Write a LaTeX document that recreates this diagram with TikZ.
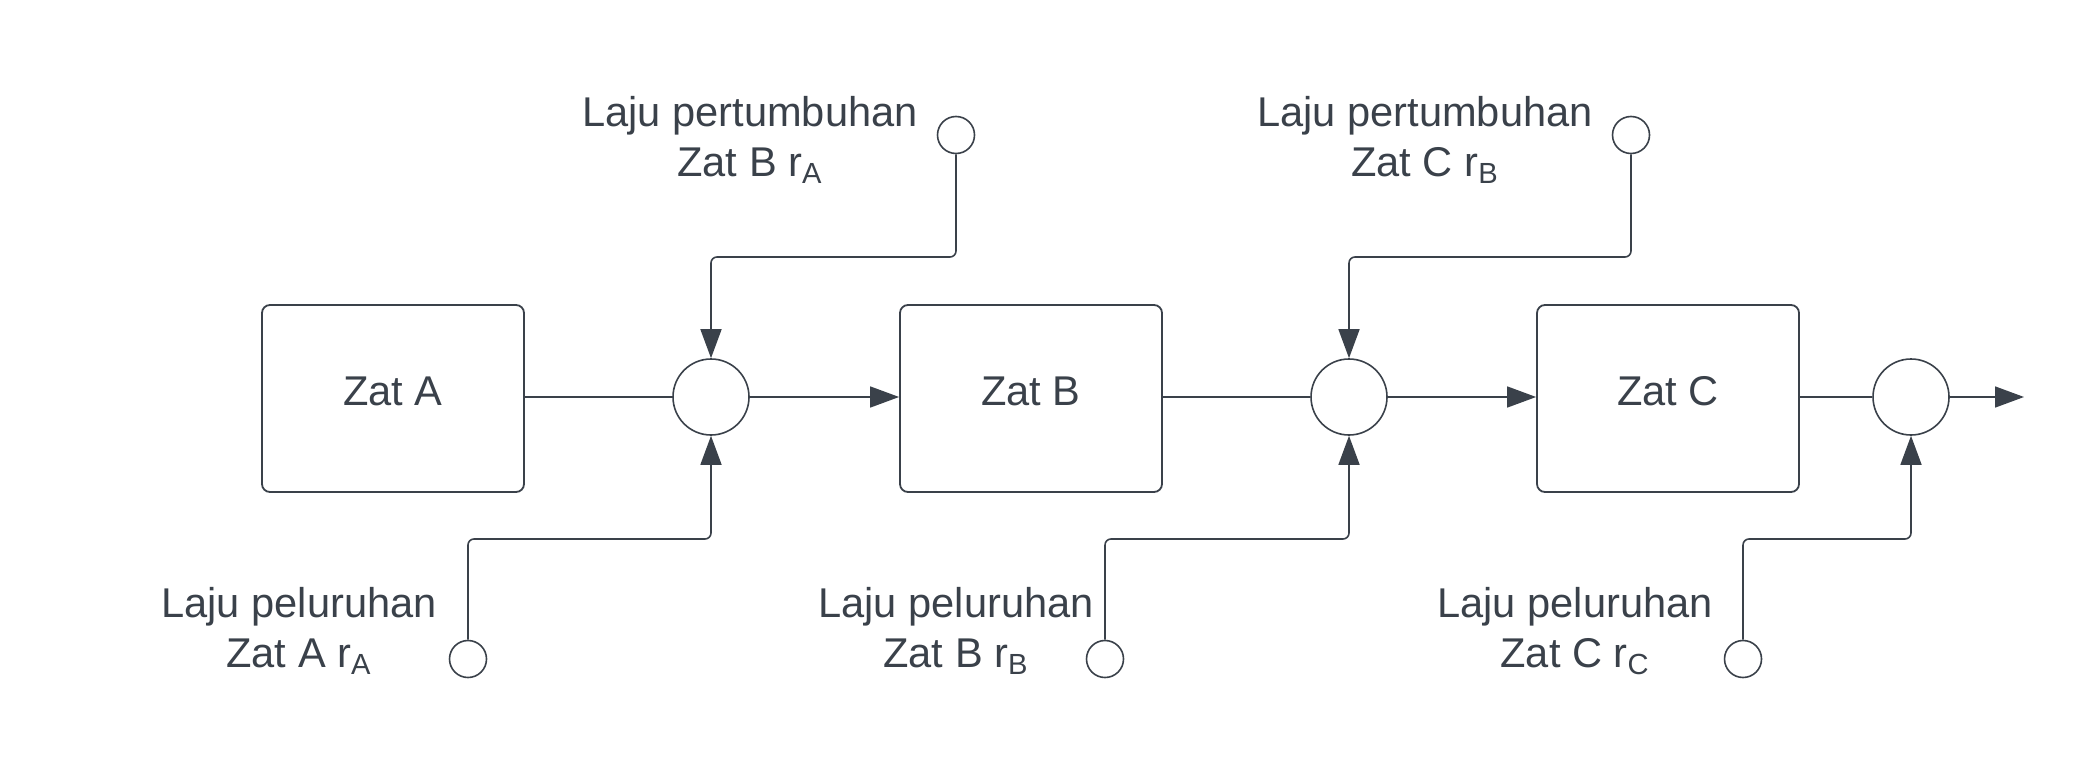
\documentclass[tikz,border=0pt]{standalone}
\usepackage{fontspec}
\setmainfont{Liberation Sans}
\usetikzlibrary{arrows.meta}
\definecolor{ink}{HTML}{3A414A}
\begin{document}
\begin{tikzpicture}[x=0.5pt,y=-0.5pt,
  every node/.style={text=ink, font=\fontsize{20.8}{25}\selectfont},
  zbox/.style={draw=ink, line width=0.9pt, rounded corners=4pt, minimum width=131pt, minimum height=93.5pt, text depth=0.75em, inner sep=0pt},
  sumc/.style={draw=ink, line width=0.8pt, circle, minimum size=38pt, inner sep=0pt},
  port/.style={draw=ink, line width=0.8pt, circle, minimum size=18.5pt, inner sep=0pt},
  lbl/.style={align=center, inner sep=0pt},
  conn/.style={draw=ink, line width=0.8pt, rounded corners=3pt},
  arr/.style={conn, -{Triangle[length=14.5pt, width=10.5pt]}}
]
\useasboundingbox (0,0) rectangle (2096,759);
% boxes
\node[zbox] (zA) at (393,398.5) {Zat A};
\node[zbox] (zB) at (1031,398.5) {Zat B};
\node[zbox] (zC) at (1668,398.5) {Zat C};
% summing circles
\node[sumc] (sA) at (711,397) {};
\node[sumc] (sB) at (1349,397) {};
\node[sumc] (sC) at (1911,397) {};
\coordinate (out) at (2024,397);
% ports
\node[port] (tA) at (956,135) {};
\node[port] (tB) at (1631,135) {};
\node[port] (bA) at (468,659) {};
\node[port] (bB) at (1105,659) {};
\node[port] (bC) at (1743,659) {};
% knee coordinates
\coordinate (ktA) at (711,257);
\coordinate (ktB) at (1349,257);
\coordinate (kbA) at (711,539);
\coordinate (kbB) at (1349,539);
\coordinate (kbC) at (1911,539);
% main line
\draw[conn] (zA.east |- sA.west) -- (sA.west);
\draw[arr] (sA.east) -- (zB.west |- sA.east);
\draw[conn] (zB.east |- sB.west) -- (sB.west);
\draw[arr] (sB.east) -- (zC.west |- sB.east);
\draw[conn] (zC.east |- sC.west) -- (sC.west);
\draw[arr] (sC.east) -- (out);
% top inputs
\draw[arr] (tA.south) |- (ktA) -- (sA.north);
\draw[arr] (tB.south) |- (ktB) -- (sB.north);
% bottom inputs
\draw[arr] (bA.north) |- (kbA) -- (sA.south);
\draw[arr] (bB.north) |- (kbB) -- (sB.south);
\draw[arr] (bC.north) |- (kbC) -- (sC.south);
% labels
\node[lbl] (ltA) at (750,140) {Laju pertumbuhan\\Zat B r\textsubscript{A}};
\node[lbl] (ltB) at (1425,140) {Laju pertumbuhan\\Zat C r\textsubscript{B}};
\node[lbl] (lbA) at (299,631) {Laju peluruhan\\Zat A r\textsubscript{A}};
\node[lbl] (lbB) at (956,631) {Laju peluruhan\\Zat B r\textsubscript{B}};
\node[lbl] (lbC) at (1575,631) {Laju peluruhan\\Zat C r\textsubscript{C}};
\end{tikzpicture}
\end{document}
